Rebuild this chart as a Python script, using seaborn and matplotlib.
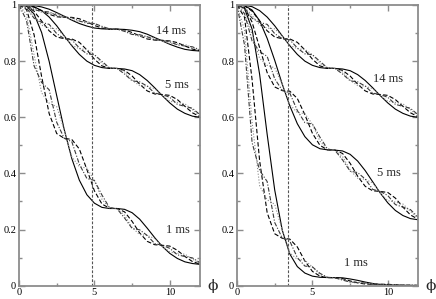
import matplotlib
matplotlib.use("Agg")
import matplotlib.pyplot as plt
from matplotlib.ticker import FixedFormatter, FixedLocator
import seaborn as sns
import pandas as pd

# sample points along phi (every 0.5)
phi = [0, 0.5, 1, 1.5, 2, 2.5, 3, 3.5, 4, 4.5, 5, 5.5, 6,
       6.5, 7, 7.5, 8, 8.5, 9, 9.5, 10, 10.5, 11, 11.5, 12]

# left panel
left_14_solid = [1.000, 1.000, 0.998, 0.993, 0.985, 0.973, 0.960, 0.946, 0.934, 0.925, 0.918, 0.915, 0.914,
                 0.914, 0.913, 0.910, 0.905, 0.896, 0.884, 0.872, 0.860, 0.850, 0.842, 0.838, 0.836]
left_14_dash = [1.000, 0.999, 0.992, 0.980, 0.967, 0.958, 0.956, 0.956, 0.951, 0.940, 0.927, 0.918, 0.914,
                0.914, 0.911, 0.902, 0.890, 0.879, 0.875, 0.874, 0.872, 0.866, 0.854, 0.843, 0.837]
left_14_dot = [1.000, 0.998, 0.986, 0.974, 0.971, 0.969, 0.960, 0.947, 0.942, 0.941, 0.934, 0.921, 0.914,
               0.914, 0.908, 0.896, 0.888, 0.887, 0.883, 0.872, 0.863, 0.861, 0.859, 0.849, 0.838]
left_14_dashdot = [1.000, 0.996, 0.983, 0.978, 0.975, 0.963, 0.956, 0.955, 0.943, 0.935, 0.934, 0.924, 0.915,
                   0.914, 0.906, 0.895, 0.894, 0.887, 0.876, 0.874, 0.869, 0.858, 0.854, 0.851, 0.840]

left_5_solid = [1.000, 0.999, 0.994, 0.980, 0.957, 0.926, 0.890, 0.855, 0.824, 0.800, 0.785, 0.777, 0.774,
                0.774, 0.772, 0.766, 0.752, 0.731, 0.705, 0.677, 0.651, 0.629, 0.614, 0.604, 0.600]
left_5_dash = [1.000, 0.997, 0.978, 0.943, 0.908, 0.886, 0.880, 0.879, 0.867, 0.840, 0.807, 0.783, 0.775,
               0.774, 0.767, 0.747, 0.718, 0.694, 0.683, 0.681, 0.678, 0.663, 0.639, 0.616, 0.602]
left_5_dot = [1.000, 0.993, 0.962, 0.928, 0.918, 0.915, 0.890, 0.857, 0.844, 0.842, 0.823, 0.792, 0.775,
              0.774, 0.761, 0.732, 0.713, 0.711, 0.702, 0.677, 0.657, 0.653, 0.648, 0.627, 0.605]
left_5_dashdot = [1.000, 0.989, 0.953, 0.938, 0.931, 0.898, 0.880, 0.876, 0.847, 0.826, 0.823, 0.799, 0.776,
                  0.774, 0.754, 0.730, 0.726, 0.711, 0.686, 0.681, 0.671, 0.646, 0.639, 0.632, 0.609]

left_1_solid = [1.000, 0.996, 0.968, 0.902, 0.799, 0.677, 0.556, 0.453, 0.376, 0.324, 0.294, 0.279, 0.275,
                0.275, 0.272, 0.260, 0.237, 0.205, 0.171, 0.140, 0.115, 0.097, 0.085, 0.079, 0.076]
left_1_dash = [1.000, 0.984, 0.894, 0.745, 0.613, 0.542, 0.525, 0.521, 0.487, 0.414, 0.338, 0.291, 0.276,
               0.275, 0.263, 0.229, 0.188, 0.158, 0.146, 0.144, 0.141, 0.126, 0.104, 0.086, 0.077]
left_1_dot = [1.000, 0.966, 0.822, 0.687, 0.650, 0.638, 0.555, 0.459, 0.424, 0.419, 0.374, 0.308, 0.277,
              0.274, 0.251, 0.207, 0.182, 0.179, 0.168, 0.140, 0.120, 0.116, 0.112, 0.095, 0.079]
left_1_dashdot = [1.000, 0.945, 0.783, 0.724, 0.698, 0.582, 0.525, 0.513, 0.433, 0.382, 0.375, 0.323, 0.278,
                  0.274, 0.241, 0.204, 0.199, 0.179, 0.150, 0.144, 0.133, 0.110, 0.104, 0.099, 0.082]

# right panel
right_14_solid = [1.000, 0.999, 0.994, 0.980, 0.957, 0.926, 0.890, 0.855, 0.824, 0.800, 0.785, 0.777, 0.774,
                  0.774, 0.772, 0.766, 0.752, 0.731, 0.705, 0.677, 0.651, 0.629, 0.614, 0.604, 0.600]
right_14_dash = [1.000, 0.997, 0.978, 0.943, 0.908, 0.886, 0.880, 0.879, 0.867, 0.840, 0.807, 0.783, 0.775,
                 0.774, 0.767, 0.747, 0.718, 0.694, 0.683, 0.681, 0.678, 0.663, 0.639, 0.616, 0.602]
right_14_dot = [1.000, 0.993, 0.962, 0.928, 0.918, 0.915, 0.890, 0.857, 0.844, 0.842, 0.823, 0.792, 0.775,
                0.774, 0.761, 0.732, 0.713, 0.711, 0.702, 0.677, 0.657, 0.653, 0.648, 0.627, 0.605]
right_14_dashdot = [1.000, 0.989, 0.953, 0.938, 0.931, 0.898, 0.880, 0.876, 0.847, 0.826, 0.823, 0.799, 0.776,
                    0.774, 0.754, 0.730, 0.726, 0.711, 0.686, 0.681, 0.671, 0.646, 0.639, 0.632, 0.609]

right_5_solid = [1.000, 0.998, 0.982, 0.944, 0.881, 0.803, 0.718, 0.641, 0.577, 0.531, 0.502, 0.488, 0.484,
                 0.483, 0.480, 0.468, 0.444, 0.410, 0.370, 0.330, 0.295, 0.268, 0.250, 0.239, 0.235]
right_5_dash = [1.000, 0.991, 0.939, 0.848, 0.759, 0.708, 0.695, 0.693, 0.667, 0.609, 0.543, 0.500, 0.484,
                0.483, 0.471, 0.436, 0.390, 0.354, 0.338, 0.336, 0.332, 0.312, 0.280, 0.252, 0.237]
right_5_dot = [1.000, 0.981, 0.896, 0.810, 0.785, 0.776, 0.718, 0.645, 0.617, 0.613, 0.575, 0.515, 0.485,
               0.483, 0.460, 0.412, 0.383, 0.379, 0.366, 0.330, 0.303, 0.298, 0.291, 0.265, 0.240]
right_5_dashdot = [1.000, 0.969, 0.872, 0.834, 0.817, 0.737, 0.696, 0.686, 0.624, 0.581, 0.576, 0.529, 0.487,
                   0.482, 0.448, 0.408, 0.403, 0.380, 0.343, 0.336, 0.321, 0.289, 0.280, 0.271, 0.244]

right_1_solid = [1.000, 0.988, 0.914, 0.753, 0.539, 0.341, 0.198, 0.113, 0.068, 0.045, 0.034, 0.030, 0.029,
                 0.029, 0.028, 0.024, 0.019, 0.013, 0.008, 0.004, 0.003, 0.002, 0.001, 0.001, 0.001]
right_1_dash = [1.000, 0.956, 0.734, 0.445, 0.260, 0.185, 0.169, 0.166, 0.138, 0.088, 0.051, 0.034, 0.029,
                0.028, 0.025, 0.017, 0.010, 0.006, 0.005, 0.005, 0.005, 0.003, 0.002, 0.001, 0.001]
right_1_dot = [1.000, 0.910, 0.583, 0.356, 0.306, 0.290, 0.198, 0.117, 0.094, 0.091, 0.067, 0.039, 0.029,
               0.028, 0.022, 0.013, 0.009, 0.009, 0.007, 0.004, 0.003, 0.003, 0.002, 0.002, 0.001]
right_1_dashdot = [1.000, 0.857, 0.510, 0.411, 0.371, 0.225, 0.170, 0.159, 0.100, 0.070, 0.067, 0.044, 0.030,
                   0.028, 0.020, 0.013, 0.012, 0.009, 0.005, 0.005, 0.004, 0.002, 0.002, 0.002, 0.001]

left_curves = {
    "14 ms": [left_14_solid, left_14_dash, left_14_dot, left_14_dashdot],
    "5 ms": [left_5_solid, left_5_dash, left_5_dot, left_5_dashdot],
    "1 ms": [left_1_solid, left_1_dash, left_1_dot, left_1_dashdot],
}
right_curves = {
    "14 ms": [right_14_solid, right_14_dash, right_14_dot, right_14_dashdot],
    "5 ms": [right_5_solid, right_5_dash, right_5_dot, right_5_dashdot],
    "1 ms": [right_1_solid, right_1_dash, right_1_dot, right_1_dashdot],
}
modes = ["solid", "dash", "dot", "dashdot"]

y_ticks = [0, 0.2, 0.4, 0.6, 0.8, 1.0]
y_ticklabels = ["0", "0.2", "0.4", "0.6", "0.8", "1"]
x_ticks = [0, 5, 10]

# label positions and marker line
left_labels = {"14 ms": (10.1, 0.907), "5 ms": (10.5, 0.715), "1 ms": (10.55, 0.198)}
right_labels = {"14 ms": (10.0, 0.736), "5 ms": (10.1, 0.40), "1 ms": (7.9, 0.081)}
left_vline = 4.86
right_vline = 3.40

sns.set_style("ticks")
plt.rcParams["font.family"] = ["Liberation Serif", "DejaVu Serif"]

palette = {"solid": "black", "dash": "black", "dot": "#8a8a8a", "dashdot": "#3a3a3a"}
dash_map = {"solid": "", "dash": (4, 2), "dot": (1, 1.6), "dashdot": (4, 1.5, 1, 1.5)}
spine_col = "#8c8c8c"


def to_frame(curves):
    rows = []
    for grp, series in curves.items():
        for mode, vals in zip(modes, series):
            for x, v in zip(phi, vals):
                rows.append({"phi": x, "value": v, "group": grp, "mode": mode})
    return pd.DataFrame(rows)


fig = plt.figure(figsize=(4.36, 2.99), dpi=100)
ax_l = fig.add_axes([19 / 436, 1 - 285.7 / 299, 181 / 436, 280.7 / 299])
ax_r = fig.add_axes([237 / 436, 1 - 285.7 / 299, 181 / 436, 280.7 / 299])

for ax, curves, labels, vx in [(ax_l, left_curves, left_labels, left_vline),
                               (ax_r, right_curves, right_labels, right_vline)]:
    df = to_frame(curves)
    sns.lineplot(data=df, x="phi", y="value", units="group", hue="mode", style="mode",
                 palette=palette, dashes=dash_map, estimator=None, legend=False,
                 linewidth=0.8, ax=ax)
    ax.axvline(vx, color="#555555", lw=0.8, dashes=(2.5, 1.5))
    for txt, (tx, ty) in labels.items():
        ax.text(tx, ty, txt, fontsize=9, ha="center", va="center")

    ax.set_xlim(0, 12)
    ax.set_ylim(0, 1)
    ax.set_xlabel("")
    ax.set_ylabel("")
    ax.xaxis.set_major_locator(FixedLocator(x_ticks))
    ax.xaxis.set_minor_locator(FixedLocator([2.5, 7.5]))
    ax.yaxis.set_major_locator(FixedLocator(y_ticks))
    ax.yaxis.set_major_formatter(FixedFormatter(y_ticklabels))
    ax.yaxis.set_minor_locator(FixedLocator([0.1, 0.3, 0.5, 0.7, 0.9]))
    ax.tick_params(which="both", direction="in", top=True, right=True, colors=spine_col,
                   labelcolor="black", labelsize=7.5, width=1)
    ax.tick_params(which="major", length=4, pad=2)
    ax.tick_params(which="minor", length=2)
    for sp in ax.spines.values():
        sp.set_color(spine_col)
        sp.set_linewidth(1.3)
    ax.text(1.072, 0.0, "ϕ", transform=ax.transAxes, fontsize=11, ha="center", va="center",
            family=["DejaVu Serif"])

fig.savefig("out.png", dpi=100)
